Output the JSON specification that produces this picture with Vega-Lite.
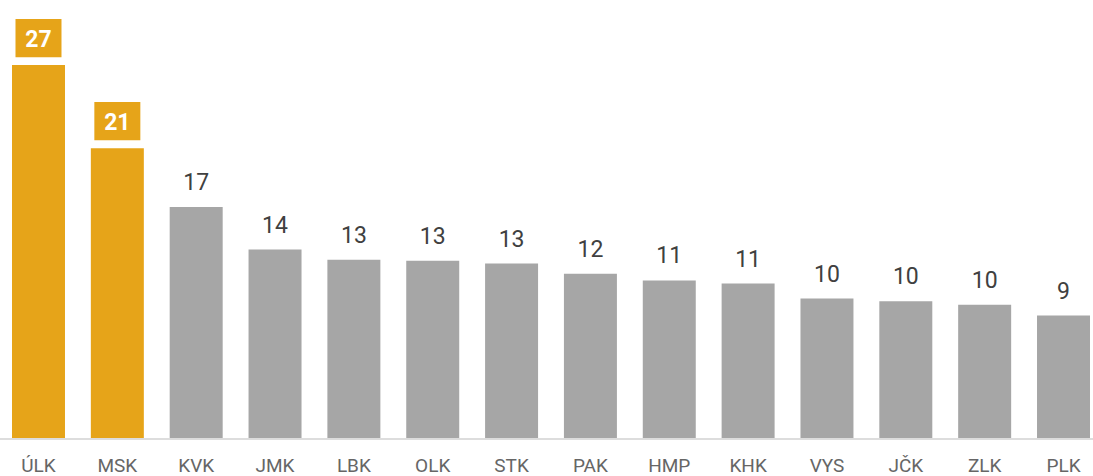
{
  "$schema": "https://vega.github.io/schema/vega-lite/v6.json",
  "width": 1093,
  "height": 439,
  "autosize": {"type": "none"},
  "padding": {"left": 0, "right": 0, "top": 0, "bottom": 37},
  "background": "white",
  "config": {"view": {"stroke": null}, "font": "Roboto"},
  "data": {
    "values": [
      {"kraj": "ÚLK", "value": 27.0},
      {"kraj": "MSK", "value": 21.0},
      {"kraj": "KVK", "value": 16.76},
      {"kraj": "JMK", "value": 13.68},
      {"kraj": "LBK", "value": 12.95},
      {"kraj": "OLK", "value": 12.88},
      {"kraj": "STK", "value": 12.67},
      {"kraj": "PAK", "value": 11.94},
      {"kraj": "HMP", "value": 11.45},
      {"kraj": "KHK", "value": 11.22},
      {"kraj": "VYS", "value": 10.14},
      {"kraj": "JČK", "value": 9.94},
      {"kraj": "ZLK", "value": 9.7},
      {"kraj": "PLK", "value": 8.91}
    ]
  },
  "encoding": {
    "x": {
      "field": "kraj",
      "type": "nominal",
      "sort": null,
      "scale": {"range": [12, 1090], "paddingInner": 0.328, "paddingOuter": 0},
      "axis": {
        "title": null,
        "labelAngle": 0,
        "ticks": false,
        "tickSize": 0,
        "domain": false,
        "labelPadding": 17,
        "labelFontSize": 19,
        "labelColor": "#666666",
        "labelFont": "Roboto"
      }
    },
    "y": {
      "field": "value",
      "type": "quantitative",
      "scale": {"domain": [0, 31.7], "nice": false},
      "axis": null
    }
  },
  "layer": [
    {
      "mark": {"type": "bar"},
      "encoding": {
        "color": {"condition": {"test": "datum.value >= 20", "value": "#E6A419"}, "value": "#A6A6A6"}
      }
    },
    {
      "mark": {"type": "rule", "color": "#dcdcdc", "strokeWidth": 1.5},
      "encoding": {"y": {"datum": 0}, "x": null}
    },
    {
      "transform": [{"filter": "datum.value < 20"}],
      "mark": {"type": "text", "baseline": "alphabetic", "dy": -17, "fontSize": 23, "color": "#404040"},
      "encoding": {"text": {"field": "value", "format": ".0f"}}
    },
    {
      "transform": [{"filter": "datum.value >= 20"}],
      "mark": {
        "type": "point",
        "shape": "M-1,-0.83L1,-0.83L1,0.83L-1,0.83Z",
        "size": 2116,
        "filled": true,
        "color": "#E6A419",
        "opacity": 1,
        "yOffset": -27,
        "strokeWidth": 0
      },
      "encoding": {}
    },
    {
      "transform": [{"filter": "datum.value >= 20"}],
      "mark": {"type": "text", "baseline": "alphabetic", "dy": -18.5, "fontSize": 23, "fontWeight": "bold", "color": "white"},
      "encoding": {"text": {"field": "value", "format": ".0f"}}
    }
  ]
}
